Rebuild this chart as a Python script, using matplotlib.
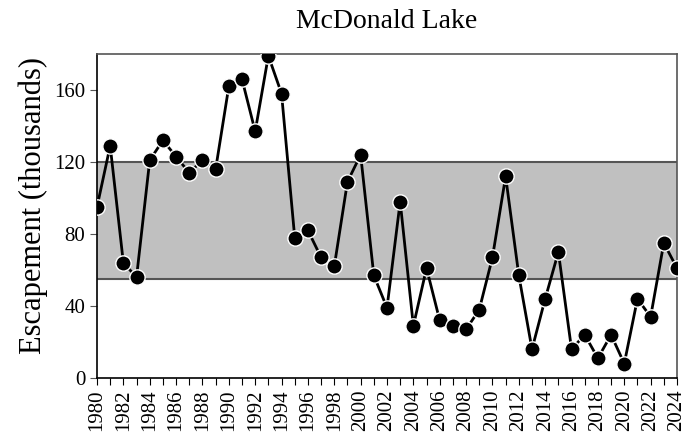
import matplotlib
matplotlib.use("Agg")
import matplotlib.pyplot as plt

years = list(range(1980, 2025))
escapement = [95, 129, 64, 56, 121, 132, 123, 114, 121, 116,
              162, 166, 137, 179, 158, 78, 82, 67, 62, 109,
              124, 57, 39, 98, 29, 61, 32, 29, 27, 38,
              67, 112, 57, 16, 44, 70, 16, 24, 11, 24,
              8, 44, 34, 75, 61]
goal_low = 55
goal_high = 120
yticks = [0, 40, 80, 120, 160]

plt.rcParams['font.family'] = ['Liberation Serif', 'DejaVu Serif']
W, H = 698, 434
fig = plt.figure(figsize=(W / 100, H / 100), dpi=100)
ax = fig.add_axes([97 / W, 56 / H, 580 / W, 324 / H])

ax.axhspan(goal_low, goal_high, facecolor='#c0c0c0', edgecolor='none', zorder=0)
ax.axhline(goal_low, color='#555555', lw=1.5, zorder=1)
ax.axhline(goal_high, color='#555555', lw=1.5, zorder=1)

ax.plot(years, escapement, color='black', lw=2, marker='o', markersize=11,
        markerfacecolor='black', markeredgecolor='white', markeredgewidth=1, zorder=3)

ax.set_xlim(1980, 2024)
ax.set_ylim(0, 180)
ax.set_yticks(yticks)
ax.set_xticks(years)
ax.set_xticklabels([str(y) if y % 2 == 0 else '' for y in years], rotation=90, fontsize=15)
ax.tick_params(axis='y', labelsize=15, direction='out', length=5, color='#555555')
ax.tick_params(axis='x', direction='out', length=5, pad=3)
for s in ['left', 'bottom']:
    ax.spines[s].set_color('black')
    ax.spines[s].set_linewidth(1.2)
for s in ['top', 'right']:
    ax.spines[s].set_color('#555555')
    ax.spines[s].set_linewidth(1.2)

fig.text(33 / W, 1 - 206 / H, 'Escapement (thousands)', rotation=90,
         ha='center', va='center', fontsize=22)
fig.text(387 / W, 1 - 22 / H, 'McDonald Lake', ha='center', va='center', fontsize=20)

fig.savefig('out.png', dpi=100)
